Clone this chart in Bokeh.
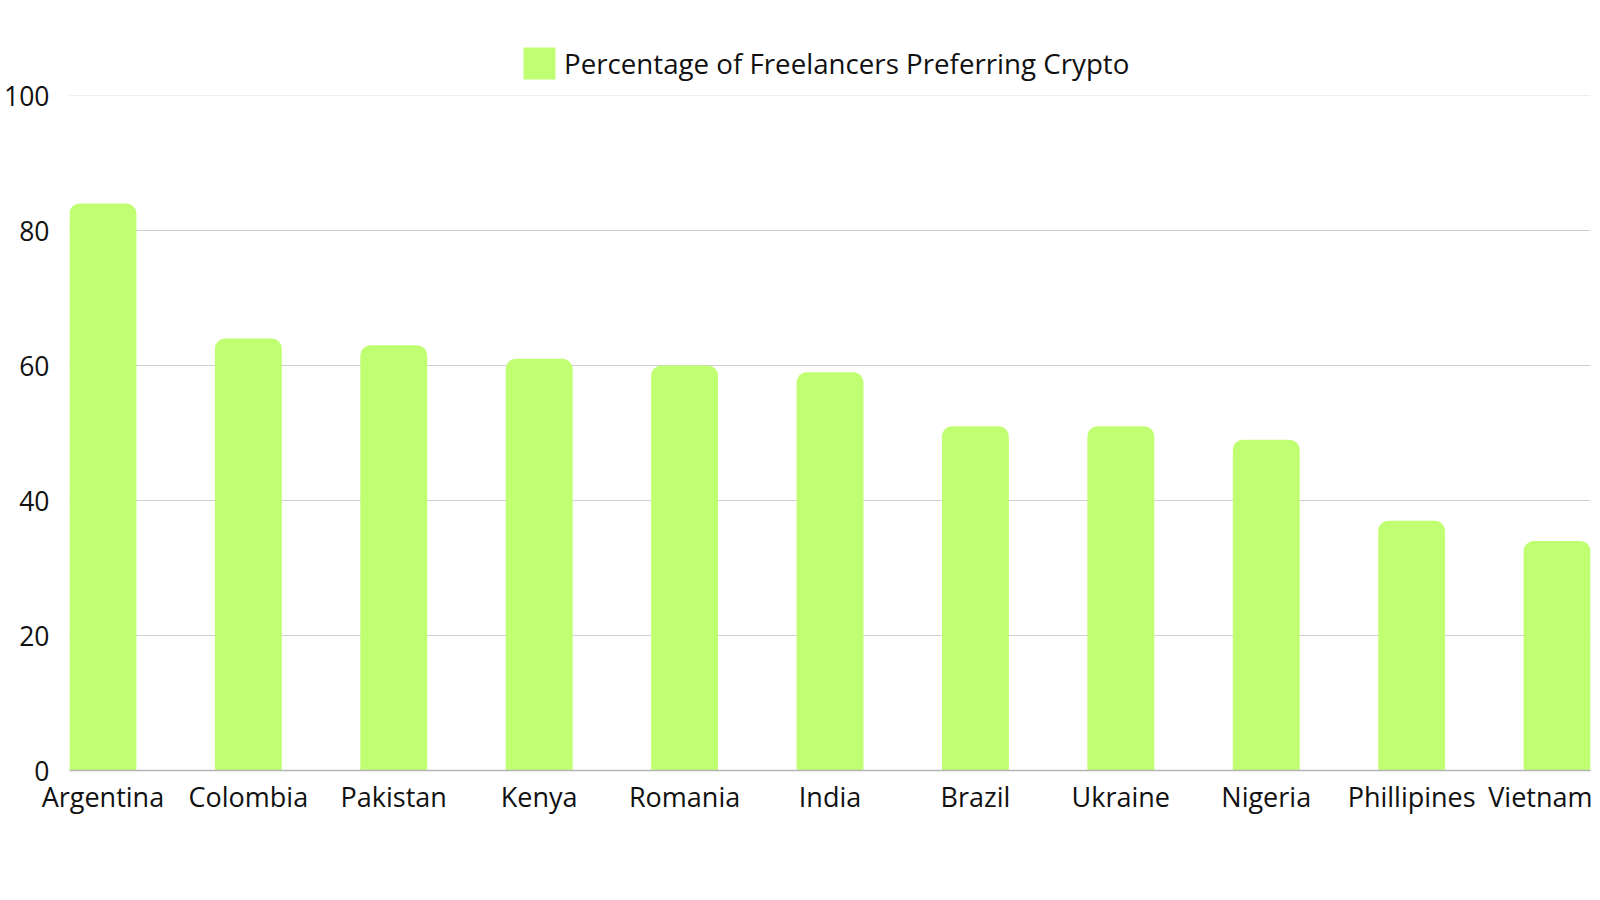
from bokeh.plotting import figure
from bokeh.models import Range1d, FixedTicker, Legend, LegendItem, Grid, ColumnDataSource
from bokeh.embed import file_html
from bokeh.resources import INLINE

countries = ["Argentina", "Colombia", "Pakistan", "Kenya", "Romania", "India",
             "Brazil", "Ukraine", "Nigeria", "Phillipines", "Vietnam"]
percentages = [84, 64, 63, 61, 60, 59, 51, 51, 49, 37, 34]
y_ticks = [0, 20, 40, 60, 80, 100]
series_name = "Percentage of Freelancers Preferring Crypto"

FONT = "Open Sans"
BAR = "#c1ff72"

positions = list(range(len(countries)))
src = ColumnDataSource(dict(x=positions, top=percentages, name=countries))

bar_w = 0.46
frame_h = 760
px_per_unit = 6.75
y_top = frame_h / px_per_unit  # extra headroom above 100 holds the legend

p = figure(width=1592, height=892, output_backend="svg", toolbar_location=None,
           x_range=Range1d(-bar_w / 2, len(countries) - 1 + bar_w / 2),
           y_range=Range1d(0, y_top))
p.min_border_left = 69
p.min_border_right = 2
p.min_border_top = 10
p.min_border_bottom = 122
p.outline_line_color = None
p.background_fill_color = "white"
p.border_fill_color = "white"

r = p.vbar(x="x", top="top", width=bar_w, bottom=0, source=src,
           fill_color=BAR, line_color=None, border_radius=(10, 10, 0, 0))

# axes
p.xaxis.ticker = FixedTicker(ticks=positions)
p.xaxis.major_label_overrides = {i: c for i, c in enumerate(countries)}
p.xaxis.major_label_text_font = FONT
p.xaxis.major_label_text_font_size = "27px"
p.xaxis.major_label_text_color = "#111111"
p.xaxis.major_label_standoff = 7
p.xaxis.major_tick_line_color = None
p.xaxis.minor_tick_line_color = None
p.xaxis.major_tick_out = 0
p.xaxis.axis_line_color = "#b5b5b5"
p.xaxis.axis_line_width = 1.5

p.yaxis.ticker = FixedTicker(ticks=y_ticks)
p.yaxis.major_label_text_font = FONT
p.yaxis.major_label_text_font_size = "26.5px"
p.yaxis.major_label_text_color = "#111111"
p.yaxis.major_label_standoff = 20
p.yaxis.major_tick_line_color = None
p.yaxis.minor_tick_line_color = None
p.yaxis.major_tick_out = 0
p.yaxis.axis_line_color = None

p.xgrid.grid_line_color = None
p.ygrid.ticker = FixedTicker(ticks=y_ticks[1:-1])
p.ygrid.grid_line_color = "#cfcfcf"
p.ygrid.grid_line_width = 1.2
top_grid = Grid(dimension=1, ticker=FixedTicker(ticks=[y_ticks[-1]]),
                grid_line_color="#eeeeee", grid_line_width=1.2)
p.add_layout(top_grid)

legend = Legend(items=[LegendItem(label=series_name, renderers=[r])],
                orientation="horizontal", location=(450, 687),
                label_text_font=FONT, label_text_font_size="27.7px",
                label_text_color="#111111",
                glyph_width=40, glyph_height=40, label_standoff=5,
                padding=0, margin=0, border_line_color=None,
                background_fill_alpha=0)
p.add_layout(legend)

open("out.html", "w").write(file_html(p, INLINE))
